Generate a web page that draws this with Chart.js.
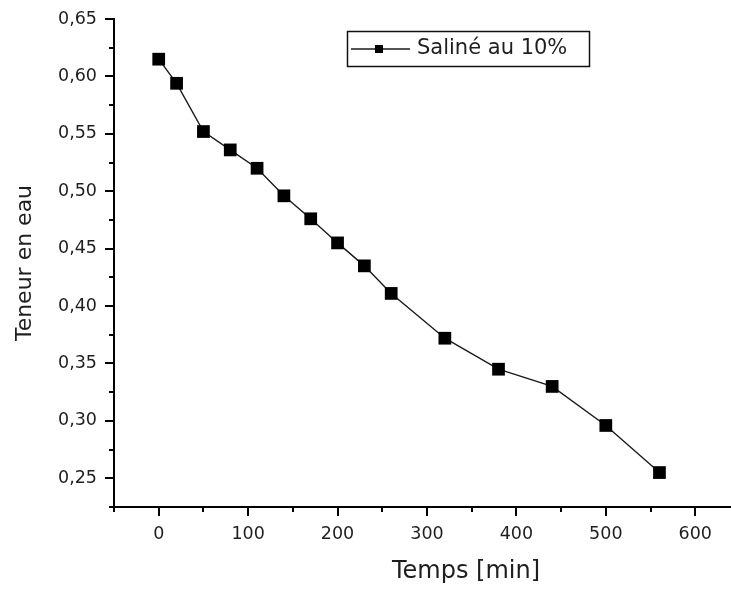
<!DOCTYPE html>
<html>
<head>
<meta charset="utf-8">
<script src="https://cdn.jsdelivr.net/npm/chart.js@4.4.1/dist/chart.umd.min.js"></script>
<style>
    html, body { margin: 0; padding: 0; background: #fff; }
    #wrap { width: 731px; height: 589px; position: relative; }
</style>
</head>
<body>
<div id="wrap"><canvas id="chart"></canvas></div>
<script>
// ===============================
// Data
// ===============================
const timeMin = [0, 20, 50, 80, 110, 140, 170, 200, 230, 260, 320, 380, 440, 500, 560];
const teneur = [0.615, 0.594, 0.552, 0.536, 0.520, 0.496, 0.476, 0.455, 0.435, 0.411, 0.372, 0.345, 0.330, 0.296, 0.255];
const seriesLabel = "Saliné au 10%";
const xTitle = "Temps [min]";
const yTitle = "Teneur en eau";

const TEXT = "#1e1e1e";
const FONT = "'DejaVu Sans', sans-serif";

// tick marks outside the axes: long on labelled ticks, short in between
const tickMarks = {
    id: "tickMarks",
    afterDraw(chart) {
        const ctx = chart.ctx;
        const area = chart.chartArea;
        const xs = chart.scales.x;
        const ys = chart.scales.y;
        ctx.save();
        ctx.strokeStyle = "#000";
        ctx.lineWidth = 2;
        ctx.beginPath();
        xs.ticks.forEach(t => {
            const v = Math.round(t.value);
            if (v % 50 !== 0) return;
            const px = Math.round(xs.getPixelForValue(v));
            const len = v % 100 === 0 ? 9 : 5;
            ctx.moveTo(px, area.bottom);
            ctx.lineTo(px, area.bottom + len);
        });
        ys.ticks.forEach(t => {
            const v = Math.round(t.value * 1000);
            if (v % 25 !== 0) return;
            const py = Math.round(ys.getPixelForValue(t.value));
            const len = v % 50 === 0 ? 9 : 5;
            ctx.moveTo(area.left, py);
            ctx.lineTo(area.left - len, py);
        });
        ctx.stroke();
        ctx.restore();
    }
};

// boxed legend inside the plot + x axis title
const boxLegend = {
    id: "boxLegend",
    afterDraw(chart) {
        const ctx = chart.ctx;
        const ds = chart.data.datasets[0];
        ctx.save();

        ctx.strokeStyle = "#111";
        ctx.lineWidth = 1.5;
        ctx.strokeRect(347.5, 31.5, 242, 35);

        ctx.strokeStyle = ds.borderColor;
        ctx.lineWidth = 1.5;
        ctx.beginPath();
        ctx.moveTo(351, 49);
        ctx.lineTo(410, 49);
        ctx.stroke();
        ctx.fillStyle = ds.pointBackgroundColor;
        ctx.fillRect(375, 45, 8, 8);

        ctx.fillStyle = TEXT;
        ctx.font = "21px " + FONT;
        ctx.textBaseline = "middle";
        ctx.textAlign = "left";
        ctx.fillText(ds.label, 417, 49);

        ctx.font = "24px " + FONT;
        ctx.textAlign = "center";
        ctx.fillText(xTitle, 466, 572);
        ctx.restore();
    }
};

new Chart(document.getElementById("chart"), {
    type: "line",
    data: {
        datasets: [{
            label: seriesLabel,
            data: timeMin.map((t, i) => ({ x: t, y: teneur[i] })),
            borderColor: "#1a1a1a",
            borderWidth: 1.4,
            tension: 0,
            pointStyle: "rect",
            pointRadius: 9,
            pointBackgroundColor: "#000",
            pointBorderWidth: 0,
            clip: false
        }]
    },
    options: {
        responsive: true,
        maintainAspectRatio: false,
        animation: false,
        layout: { autoPadding: false, padding: { top: 19, right: 0, left: 0, bottom: 0 } },
        plugins: {
            legend: { display: false },
            tooltip: { enabled: false }
        },
        scales: {
            x: {
                type: "linear",
                min: -50,
                max: 640,
                afterFit: s => { s.height = 82; s.paddingLeft = 0; s.paddingRight = 0; },
                border: { display: true, color: "#000", width: 2 },
                grid: { display: true, drawOnChartArea: false, drawTicks: false },
                ticks: {
                    stepSize: 50,
                    includeBounds: false,
                    autoSkip: false,
                    maxRotation: 0,
                    padding: 17,
                    color: TEXT,
                    font: { family: FONT, size: 17.5 },
                    callback: v => (Math.round(v) % 100 === 0 ? String(Math.round(v)) : "")
                }
            },
            y: {
                type: "linear",
                min: 0.225,
                max: 0.65,
                afterFit: s => { s.width = 114; s.paddingTop = 0; s.paddingBottom = 0; },
                border: { display: true, color: "#000", width: 2 },
                grid: { display: true, drawOnChartArea: false, drawTicks: false },
                title: {
                    display: true,
                    text: yTitle,
                    color: TEXT,
                    font: { family: FONT, size: 22 },
                    padding: { top: 12, bottom: 0 }
                },
                ticks: {
                    stepSize: 0.025,
                    autoSkip: false,
                    padding: 17,
                    color: TEXT,
                    font: { family: FONT, size: 17.5 },
                    callback: v => (Math.round(v * 1000) % 50 === 0 ? v.toFixed(2).replace(".", ",") : "")
                }
            }
        }
    },
    plugins: [tickMarks, boxLegend]
});
</script>
</body>
</html>
